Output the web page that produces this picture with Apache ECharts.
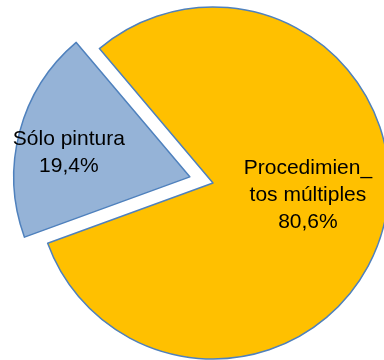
<!DOCTYPE html>
<html>
<head>
<meta charset="utf-8">
<script src="https://cdn.jsdelivr.net/npm/echarts@6/dist/echarts.min.js"></script>
<style>
  html, body { margin: 0; padding: 0; background: #ffffff; }
  #chart { width: 384px; height: 360px; }
</style>
</head>
<body>
<div id="chart"></div>
<script>
// Share of treatment types (percent)
const categories = ['Procedimien_\ntos múltiples', 'Sólo pintura'];
const shares = [80.6, 19.4];
const sliceColors = ['#FFC000', '#95B3D7'];
const explodedSlice = [false, true];

// Nudges applied to the inside labels, per slice
const labelShift = [[7, -11], [-33, -1]];

const pieData = categories.map((name, i) => ({
  name: name,
  value: shares[i],
  selected: explodedSlice[i],
  itemStyle: { color: sliceColors[i] }
}));

const chart = echarts.init(document.getElementById('chart'), null, { renderer: 'canvas' });
chart.setOption({
  animation: false,
  series: [{
    type: 'pie',
    center: [213, 183],
    radius: 176,
    startAngle: 130.2,
    clockwise: true,
    selectedMode: 'single',
    selectedOffset: 24,
    avoidLabelOverlap: false,
    data: pieData,
    itemStyle: { borderColor: '#4F81BD', borderWidth: 1.5 },
    label: {
      show: true,
      position: 'inside',
      color: '#000000',
      fontFamily: '"Liberation Sans", Arial, sans-serif',
      fontSize: 21,
      lineHeight: 27,
      align: 'center',
      formatter: p => p.name + '\n' + p.value.toFixed(1).replace('.', ',') + '%'
    },
    labelLine: { show: false },
    emphasis: { disabled: true },
    select: { disabled: false, itemStyle: { borderColor: '#4F81BD', borderWidth: 1.5 } }
  }]
});
chart.setOption({
  series: [{
    labelLayout: p => ({ dx: labelShift[p.dataIndex][0], dy: labelShift[p.dataIndex][1] })
  }]
});
</script>
</body>
</html>
